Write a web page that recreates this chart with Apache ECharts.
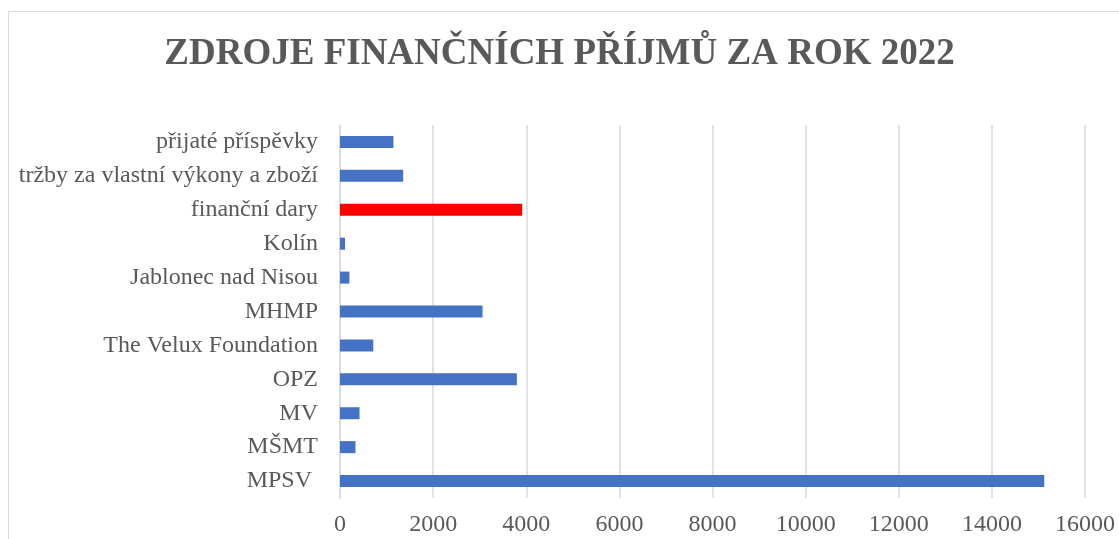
<!DOCTYPE html>
<html>
<head>
<meta charset="UTF-8"/>
<title>Zdroje finančních příjmů za rok 2022</title>
<script src="https://cdn.jsdelivr.net/npm/echarts@6/dist/echarts.min.js"></script>
<style>
html, body { margin:0; padding:0; background:#fff; }
#placeholder { width:1119px; height:539px; }
</style>
</head>
<body>
<div id="placeholder"></div>
<script type="text/javascript">
// kategorie odspodu nahoru
var categories = ['MPSV ', 'MŠMT', 'MV', 'OPZ', 'The Velux Foundation', 'MHMP',
  'Jablonec nad Nisou', 'Kolín', 'finanční dary', 'tržby za vlastní výkony a zboží', 'přijaté příspěvky'];
var values = [15125, 332, 419, 3798, 715, 3061, 202, 108, 3913, 1357, 1148];
var highlighted = 'finanční dary';
var xTicks = [0, 2000, 4000, 6000, 8000, 10000, 12000, 14000, 16000];

var barData = [];
for (var i = 0; i < values.length; i++) {
  if (categories[i] === highlighted) {
    barData.push({ value: values[i], itemStyle: { color: '#ff0000' } });
  } else {
    barData.push(values[i]);
  }
}

var myChart = echarts.init(document.getElementById('placeholder'));
var font = '"Liberation Serif", "Times New Roman", serif';
var option = {
  animation: false,
  title: {
    text: 'ZDROJE FINANČNÍCH PŘÍJMŮ ZA ROK 2022',
    left: 'center',
    top: 31,
    textStyle: { fontFamily: font, fontWeight: 'bold', fontSize: 37, color: '#595959' }
  },
  graphic: [{
    type: 'rect',
    shape: { x: 8.5, y: 11.5, width: 1300, height: 700 },
    style: { fill: 'none', stroke: '#d9d9d9', lineWidth: 1 },
    silent: true
  }],
  grid: { left: 340, right: 34, top: 125, bottom: 41 },
  xAxis: {
    type: 'value',
    min: xTicks[0],
    max: xTicks[xTicks.length - 1],
    interval: xTicks[1] - xTicks[0],
    axisLine: { show: false },
    axisTick: { show: false },
    splitLine: { lineStyle: { color: '#d9d9d9', width: 1.5 } },
    axisLabel: {
      fontFamily: font, fontSize: 24, color: '#595959', margin: 15,
      formatter: function (v) { return String(v); }
    }
  },
  yAxis: {
    type: 'category',
    data: categories,
    axisLine: { show: true, lineStyle: { color: '#d9d9d9', width: 1.5 } },
    axisTick: { show: false },
    axisLabel: { fontFamily: font, fontSize: 24, color: '#595959', margin: 22 }
  },
  series: [{
    type: 'bar',
    data: barData,
    barWidth: 12,
    itemStyle: { color: '#4472c4' }
  }]
};
myChart.setOption(option, true);
</script>
</body>
</html>
